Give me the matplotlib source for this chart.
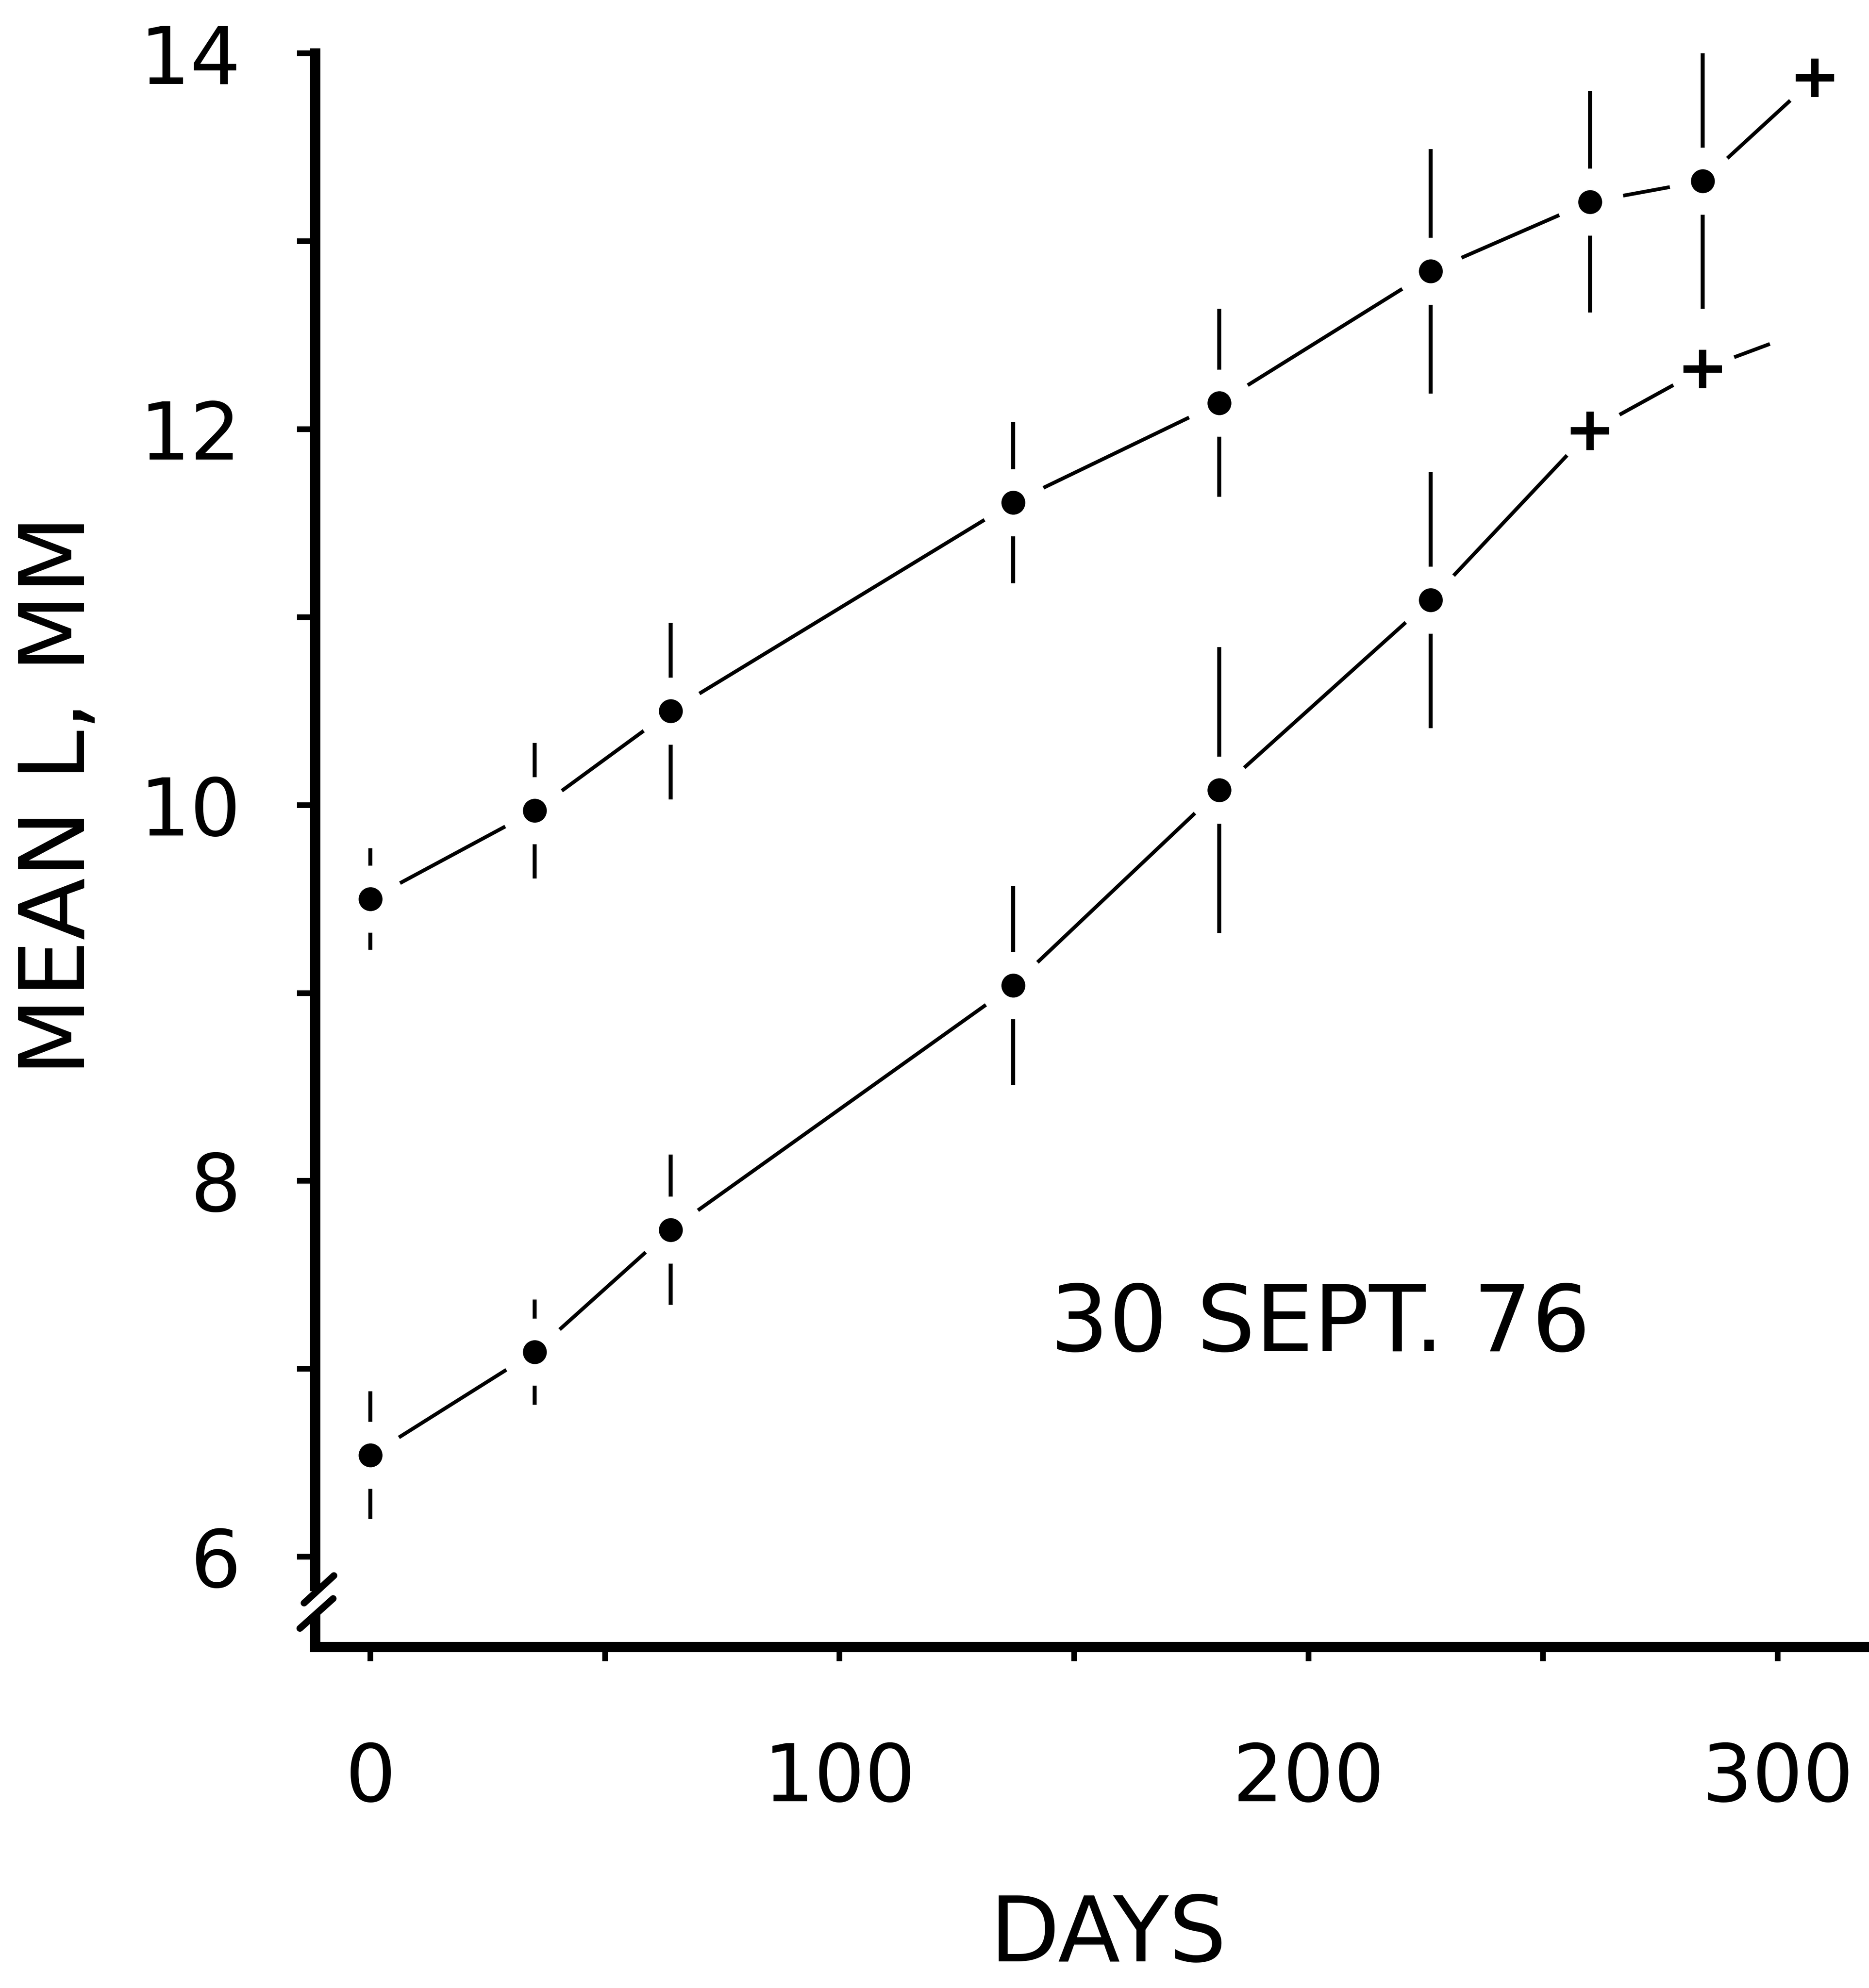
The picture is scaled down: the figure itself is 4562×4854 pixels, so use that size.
import numpy as np
import matplotlib
matplotlib.use('Agg')
import matplotlib.pyplot as plt
from matplotlib.ticker import MultipleLocator

# upper curve (dots with +/- bars), last point plotted as a cross
days_upper = [0, 35, 64, 137, 181, 226, 260, 284]
mean_upper = [9.50, 9.97, 10.50, 11.61, 12.14, 12.84, 13.21, 13.32]
bar_upper = [0.27, 0.36, 0.47, 0.43, 0.50, 0.65, 0.59, 0.68]
cross_days_upper = [308]
cross_mean_upper = [13.87]

# lower curve
days_lower = [0, 35, 64, 137, 181, 226]
mean_lower = [6.54, 7.09, 7.74, 9.04, 10.08, 11.09]
bar_lower = [0.34, 0.28, 0.40, 0.53, 0.76, 0.68]
cross_days_lower = [260, 284]
cross_mean_lower = [11.99, 12.32]
tail_days_lower = [284, 298]
tail_mean_lower = [12.32, 12.45]

x_ticks = [0, 100, 200, 300]
y_ticks = [6, 8, 10, 12, 14]
date_note = '30 SEPT. 76'

if __name__ == "__main__":
    plt.rcParams['font.family'] = ['DejaVu Sans']

    fig = plt.figure(figsize=(45.62, 48.54), dpi=100)
    ax = fig.add_axes([0.1686, 0.1716, 0.8314, 0.8016])
    ax.set_xlim(-11.8, 319.5)
    ax.set_ylim(5.521, 14.0)

    lw = 6.5
    series = [(days_upper, mean_upper, bar_upper, cross_days_upper, cross_mean_upper),
              (days_lower, mean_lower, bar_lower, cross_days_lower, cross_mean_lower)]
    for d, m, b, cd, cm in series:
        ax.plot(d + cd, m + cm, color='k', lw=lw, zorder=1, clip_on=False)
        ax.errorbar(d, m, yerr=b, fmt='none', ecolor='k', elinewidth=7,
                    capsize=0, zorder=1, clip_on=False)
    ax.plot(tail_days_lower, tail_mean_lower, color='k', lw=lw, zorder=1, clip_on=False)

    # white halos leave the plotter-style gaps round each point
    all_days = days_upper + cross_days_upper + days_lower + cross_days_lower
    all_mean = mean_upper + cross_mean_upper + mean_lower + cross_mean_lower
    ax.plot(all_days, all_mean, 'o', ms=118, color='white', mew=0, zorder=3, clip_on=False)

    ax.plot(days_upper + days_lower, mean_upper + mean_lower, 'o', ms=42, color='k',
            mew=0, zorder=4, clip_on=False)
    ax.plot(cross_days_upper + cross_days_lower, cross_mean_upper + cross_mean_lower, '+',
            ms=68, mew=13, color='k', zorder=4, clip_on=False)

    # axes
    for s in ['top', 'right']:
        ax.spines[s].set_visible(False)
    ax.spines['bottom'].set_linewidth(18)
    ax.spines['left'].set_linewidth(18)
    ax.spines['left'].set_bounds(5.845, 14.0)
    ax.plot([0, 0], [5.521, 5.668], color='k', lw=18, solid_capstyle='projecting',
            transform=ax.get_yaxis_transform(), clip_on=False, zorder=5)
    # axis break marks
    ax.plot([-0.0071, 0.0121], [0.0275, 0.0447], color='k', lw=12, solid_capstyle='round',
            transform=ax.transAxes, clip_on=False, zorder=5)
    ax.plot([-0.0098, 0.0116], [0.0116, 0.0303], color='k', lw=12, solid_capstyle='round',
            transform=ax.transAxes, clip_on=False, zorder=5)

    ax.set_xticks(x_ticks)
    ax.xaxis.set_minor_locator(MultipleLocator(50))
    ax.set_yticks(y_ticks)
    ax.yaxis.set_minor_locator(MultipleLocator(1))
    ax.tick_params(axis='both', which='both', direction='out', width=10, color='k')
    ax.tick_params(axis='x', which='both', length=25, pad=140, labelsize=140)
    ax.tick_params(axis='y', which='both', length=32, pad=98, labelsize=140)

    ax.set_xlabel('DAYS', fontsize=160, va='center')
    ax.xaxis.set_label_coords(0.5104, -0.1817)
    ax.set_ylabel('MEAN L, MM', fontsize=160, va='center')
    ax.yaxis.set_label_coords(-0.1645, 0.5343)

    ax.text(0.6467, 0.2015, date_note, transform=ax.transAxes, fontsize=162,
            ha='center', va='center')

    fig.savefig('out.png', dpi=100)
